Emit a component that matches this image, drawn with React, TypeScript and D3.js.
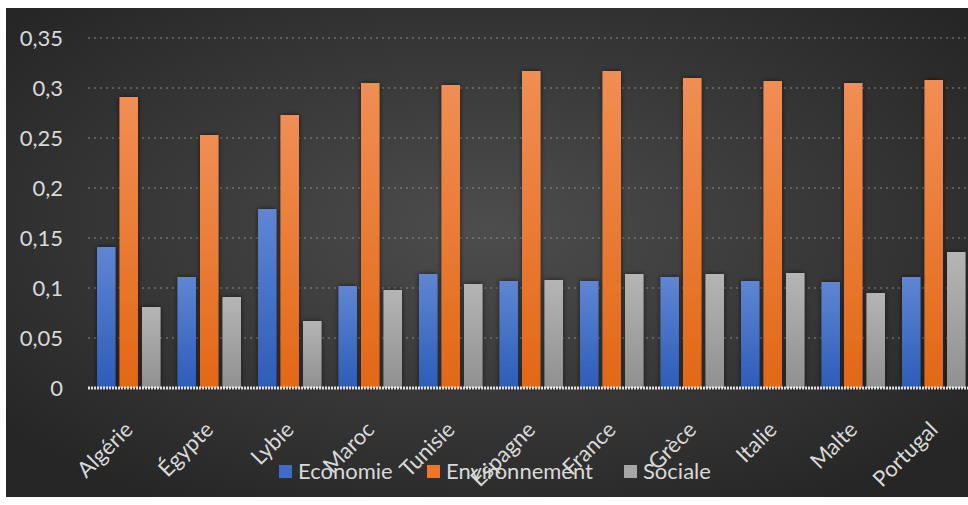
import React from "react";
import * as d3 from "d3";

const categories = ["Algérie", "Égypte", "Lybie", "Maroc", "Tunisie", "Espagne", "France", "Grèce", "Italie", "Malte", "Portugal"];
const economie = [0.141, 0.111, 0.179, 0.102, 0.114, 0.107, 0.107, 0.111, 0.107, 0.106, 0.111];
const environnement = [0.291, 0.253, 0.273, 0.305, 0.303, 0.317, 0.317, 0.310, 0.307, 0.305, 0.308];
const sociale = [0.081, 0.091, 0.067, 0.098, 0.104, 0.108, 0.114, 0.114, 0.115, 0.095, 0.136];
const seriesNames = ["Economie", "Environnement", "Sociale"];
const yTicks = [0, 0.05, 0.1, 0.15, 0.2, 0.25, 0.3, 0.35];

const W = 968;
const H = 505;
const left = 88;
const bandW = 80.5;

export default function App() {
  const x = d3.scaleBand<string>().domain(categories).range([left, left + bandW * categories.length]);
  const x1 = d3.scaleBand<string>().domain(seriesNames).range([9, 72.5]).paddingInner(0.178);
  const y = d3.scaleLinear().domain([0, 0.35]).range([388, 38]);
  const seriesData = [economie, environnement, sociale];
  const fills = ["url(#gBlue)", "url(#gOrange)", "url(#gGray)"];
  const fmt = (v: number) => String(v).replace(".", ",");
  const font = "Lato, 'Open Sans', sans-serif";

  const legendItems = [
    { name: "Economie", x: 279, color: "#3f6cc6" },
    { name: "Environnement", x: 427, color: "#ee7628" },
    { name: "Sociale", x: 624, color: "#a6a6a6" },
  ];

  return (
    <div style={{ position: "absolute", left: 0, top: 0 }}>
      <svg width={W} height={H} style={{ display: "block" }}>
        <defs>
          <radialGradient id="bg" cx="50%" cy="45%" r="65%">
            <stop offset="0%" stopColor="#4d4d4d" />
            <stop offset="100%" stopColor="#262626" />
          </radialGradient>
          <linearGradient id="gBlue" x1="0" y1="0" x2="0" y2="1">
            <stop offset="0%" stopColor="#5f86d3" />
            <stop offset="100%" stopColor="#2d5cb8" />
          </linearGradient>
          <linearGradient id="gOrange" x1="0" y1="0" x2="0" y2="1">
            <stop offset="0%" stopColor="#f18e54" />
            <stop offset="100%" stopColor="#e26816" />
          </linearGradient>
          <linearGradient id="gGray" x1="0" y1="0" x2="0" y2="1">
            <stop offset="0%" stopColor="#b5b5b5" />
            <stop offset="100%" stopColor="#909090" />
          </linearGradient>
          <filter id="shadow" x="-30%" y="-10%" width="160%" height="120%">
            <feDropShadow dx="0" dy="0" stdDeviation="2.5" floodColor="#000" floodOpacity="0.6" />
          </filter>
        </defs>
        <rect x={0} y={0} width={W} height={H} fill="#ffffff" />
        <rect x={6} y={8} width={W - 6} height={489} fill="url(#bg)" />

        {yTicks.slice(1).map((t) => (
          <line key={t} x1={left} x2={W} y1={y(t)} y2={y(t)} stroke="#949494" strokeWidth={1} strokeDasharray="2,4" opacity={0.9} />
        ))}

        {yTicks.map((t) => (
          <text key={t} x={63} y={y(t) + 8} textAnchor="end" fill="#d9d9d9" fontSize={22} fontFamily={font}>
            {fmt(t)}
          </text>
        ))}

        {categories.map((c, i) => (
          <g key={c} transform={`translate(${x(c)},0)`}>
            {seriesData.map((s, j) => (
              <rect
                key={j}
                x={x1(seriesNames[j])}
                y={y(s[i])}
                width={x1.bandwidth()}
                height={y(0) - y(s[i])}
                fill={fills[j]}
                filter="url(#shadow)"
              />
            ))}
          </g>
        ))}

        <line x1={left} x2={W} y1={y(0)} y2={y(0)} stroke="#ffffff" strokeWidth={3} strokeDasharray="2,1" opacity={0.85} />

        {categories.map((c) => {
          const cx = (x(c) as number) + bandW / 2 + 6;
          const cy = 431;
          return (
            <text
              key={c}
              x={cx}
              y={cy}
              textAnchor="end"
              transform={`rotate(-45 ${cx} ${cy})`}
              fill="#d9d9d9"
              fontSize={22}
              fontFamily={font}
            >
              {c}
            </text>
          );
        })}

        {legendItems.map((l) => (
          <g key={l.name}>
            <rect x={l.x} y={465} width={13} height={13} fill={l.color} />
            <text x={l.x + 19} y={479} fill="#d9d9d9" fontSize={22} fontFamily={font}>
              {l.name}
            </text>
          </g>
        ))}
      </svg>
    </div>
  );
}
